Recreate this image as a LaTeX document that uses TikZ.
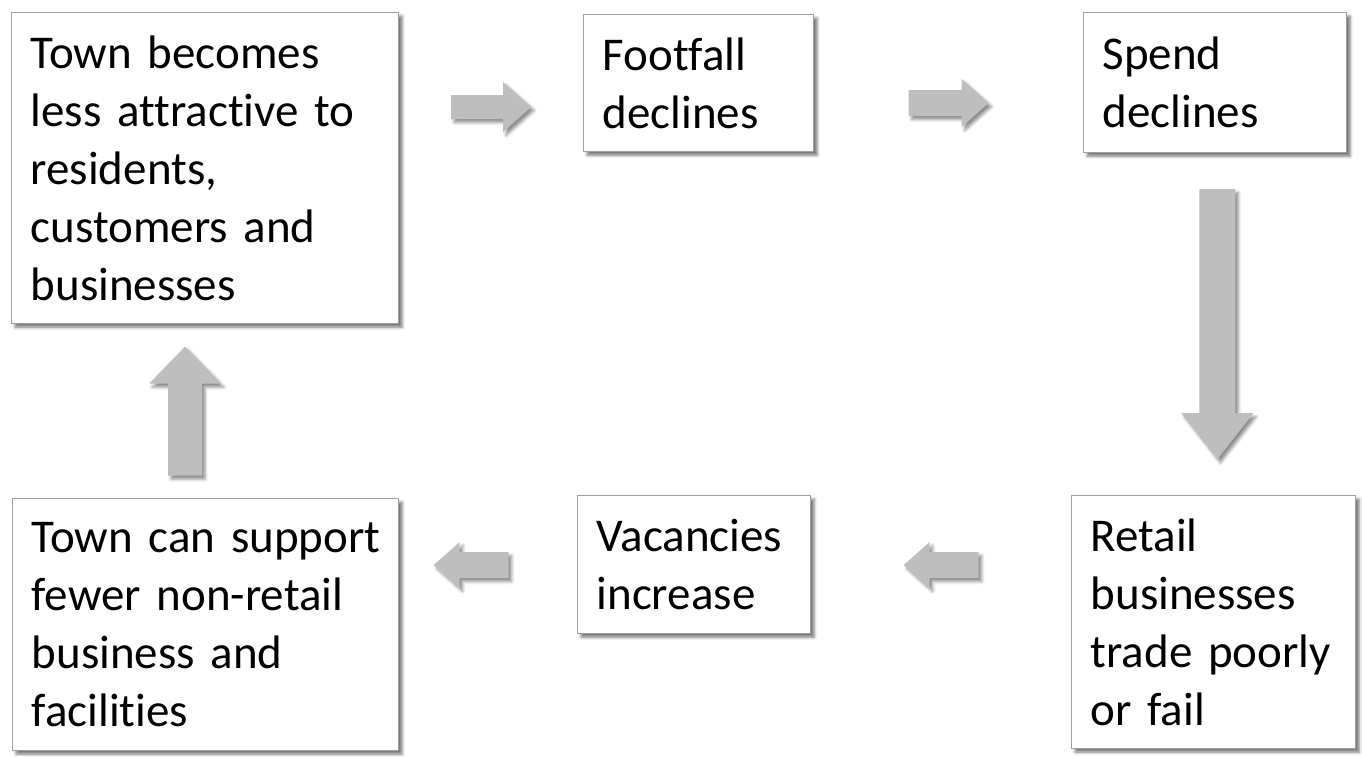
\documentclass[tikz,border=0pt]{standalone}
\usepackage{fontspec}
\setmainfont[Ligatures={NoCommon}]{Carlito}
\usetikzlibrary{calc,shadows.blur}

% block arrow pointing east, centred on the origin of the scope:
% #1 length, #2 shaft half-width, #3 head length, #4 head half-width
\newcommand\fatarrowpath[4]{%
  (-#1/2,-#2) -- (#1/2-#3,-#2) -- (#1/2-#3,-#4) -- (#1/2,0)
  -- (#1/2-#3,#4) -- (#1/2-#3,#2) -- (-#1/2,#2) -- cycle}
% one unbreakable line of box text
\newcommand\boxline[1]{\mbox{#1}}

\tikzset{
  cyclebox/.style={draw=boxedge, line width=1.3pt, fill=white,
    anchor=north west, inner xsep=19pt, inner ysep=0pt, align=left,
    font=\fontsize{47}{58}\selectfont,
    blur shadow={shadow xshift=3.5pt, shadow yshift=-3.5pt,
      shadow blur radius=3pt, shadow opacity=55}},
  fatarrow/.style={fill=arrowgrey,
    blur shadow={shadow xshift=3pt, shadow yshift=-3.5pt,
      shadow blur radius=3pt, shadow opacity=45}}
}
\definecolor{boxedge}{HTML}{9E9E9E}
\definecolor{arrowgrey}{HTML}{BEBEBE}

\begin{document}
\begin{tikzpicture}[x=1pt,y=-1pt]
\useasboundingbox (0,0) rectangle (1362,756);

% the six stages of the cycle
\node[cyclebox, minimum width=387pt, minimum height=311pt, text width=349pt]
  (attract) at (11,12)
  {\boxline{Town becomes}\\\boxline{less attractive to}\\\boxline{residents,}\\\boxline{customers and}\\\boxline{businesses}};
\node[cyclebox, minimum width=230pt, minimum height=137pt, text width=192pt]
  (footfall) at (583,14) {\boxline{Footfall}\\\boxline{declines}};
\node[cyclebox, minimum width=263pt, minimum height=140pt, text width=225pt]
  (spend) at (1083,12) {\boxline{Spend}\\\boxline{declines}};
\node[cyclebox, minimum width=284pt, minimum height=253pt, text width=246pt]
  (retail) at (1071,495) {\boxline{Retail}\\\boxline{businesses}\\\boxline{trade poorly}\\\boxline{or fail}};
\node[cyclebox, minimum width=233pt, minimum height=138pt, text width=195pt]
  (vacancy) at (577,495) {\boxline{Vacancies}\\\boxline{increase}};
\node[cyclebox, minimum width=386pt, minimum height=252pt, text width=348pt]
  (support) at (12,498)
  {\boxline{Town can support}\\\boxline{fewer non-retail}\\\boxline{business and}\\\boxline{facilities}};

% block arrows between the stages
\begin{scope}[shift={($(attract.east|-0,107)!0.5!(footfall.west|-0,107)$)}]
  \fill[fatarrow] \fatarrowpath{80}{12}{28}{25};
\end{scope}
\begin{scope}[shift={($(footfall.east|-0,103)!0.5!(spend.west|-0,103)$)}]
  \fill[fatarrow] \fatarrowpath{80}{13}{27}{24};
\end{scope}
\begin{scope}[shift={($(spend.south)!0.5!(retail.north)+(3,0)$)}, rotate=-90]
  \fill[fatarrow] \fatarrowpath{270}{18}{46}{36};
\end{scope}
\begin{scope}[shift={($(retail.west|-0,565)!0.5!(vacancy.east|-0,565)$)}, rotate=180]
  \fill[fatarrow] \fatarrowpath{75}{13}{26}{23};
\end{scope}
\begin{scope}[shift={($(vacancy.west|-0,565)!0.5!(support.east|-0,565)+(-17,0)$)}, rotate=180]
  \fill[fatarrow] \fatarrowpath{75}{13}{26}{23};
\end{scope}
\begin{scope}[shift={($(support.north-|185,0)!0.5!(attract.south-|185,0)$)}, rotate=90]
  \fill[fatarrow] \fatarrowpath{129}{17}{37}{36};
\end{scope}
\end{tikzpicture}
\end{document}
